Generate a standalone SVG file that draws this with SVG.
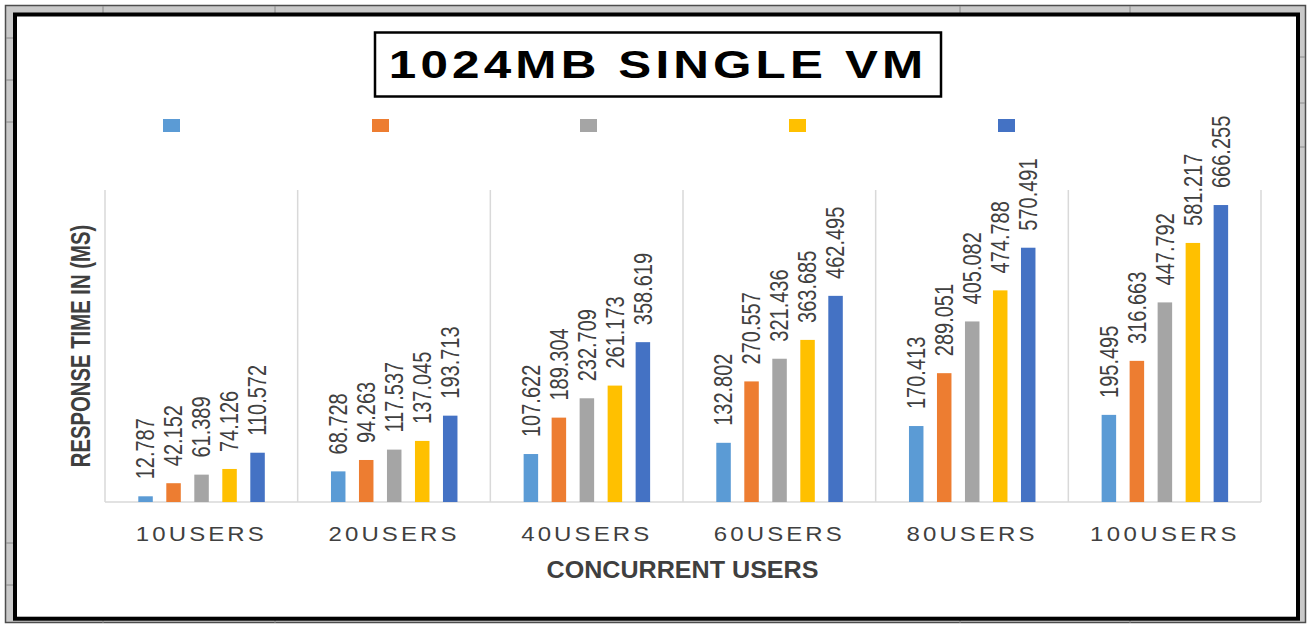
<svg xmlns="http://www.w3.org/2000/svg" width="1309" height="624" viewBox="0 0 1309 624">
  <style>
    .s1 { fill: #5B9BD5; }
    .s2 { fill: #ED7D31; }
    .s3 { fill: #A5A5A5; }
    .s4 { fill: #FFC000; }
    .s5 { fill: #4472C4; }
    .grid { stroke: #d9d9d9; stroke-width: 1.5; fill: none; }
    .tick { stroke: #8a8a8a; stroke-width: 1; }
    .val { font-family: "Liberation Sans", Arial, sans-serif; font-size: 20px; fill: #404040; }
    .cat { font-family: "Liberation Sans", Arial, sans-serif; font-size: 20px; fill: #404040; text-anchor: middle; }
    .axt { font-family: "Liberation Sans", Arial, sans-serif; font-weight: bold; fill: #3f3f3f; text-anchor: middle; }
    .ttl { font-family: "Liberation Sans", Arial, sans-serif; font-weight: bold; font-size: 38px; fill: #000; text-anchor: middle; }
  </style>

  <!-- sheet frame -->
  <rect x="0" y="0" width="1309" height="624" fill="#ffffff"/>
  <rect x="5.5" y="5.5" width="1300" height="617" fill="#c9c9c9" stroke="#4d4d4d" stroke-width="1.5"/>
  <g id="sheet-ticks">
    <line class="tick" x1="103" y1="6" x2="103" y2="13"/>
    <line class="tick" x1="275" y1="6" x2="275" y2="13"/>
    <line class="tick" x1="960" y1="6" x2="960" y2="13"/>
    <line class="tick" x1="1130" y1="6" x2="1130" y2="13"/>
    <line class="tick" x1="103" y1="620" x2="103" y2="623"/>
    <line class="tick" x1="275" y1="620" x2="275" y2="623"/>
    <line class="tick" x1="960" y1="620" x2="960" y2="623"/>
    <line class="tick" x1="1130" y1="620" x2="1130" y2="623"/>
    <line class="tick" x1="6" y1="38" x2="13" y2="38"/>
    <line class="tick" x1="6" y1="80" x2="13" y2="80"/>
    <line class="tick" x1="6" y1="122" x2="13" y2="122"/>
    <line class="tick" x1="6" y1="543" x2="13" y2="543"/>
    <line class="tick" x1="6" y1="585" x2="13" y2="585"/>
    <line class="tick" x1="1300" y1="57" x2="1305" y2="57"/>
    <line class="tick" x1="1300" y1="103" x2="1305" y2="103"/>
    <line class="tick" x1="1300" y1="147" x2="1305" y2="147"/>
  </g>
  <rect id="chart-frame" x="15" y="14.5" width="1283" height="604.2" fill="#ffffff" stroke="#000000" stroke-width="4"/>

  <!-- title -->
  <g id="title">
    <rect x="375" y="32.5" width="566" height="64" fill="#ffffff" stroke="#000000" stroke-width="2.5"/>
    <text class="ttl" transform="translate(656,77.5) scale(1.3,1)" textLength="411">1024MB SINGLE VM</text>
  </g>

  <!-- legend keys (series names are blank) -->
  <g id="legend">
    <rect class="s1" x="163" y="119" width="17" height="13"/>
    <rect class="s2" x="372" y="119" width="17" height="13"/>
    <rect class="s3" x="580" y="119" width="17" height="13"/>
    <rect class="s4" x="789" y="119" width="17" height="13"/>
    <rect class="s5" x="998" y="119" width="17" height="13"/>
  </g>

  <!-- plot area grid: category separators and baseline -->
  <g id="grid">
    <path class="grid" d="M105,190V502M297.67,190V502M490.33,190V502M683,190V502M875.67,190V502M1068.33,190V502M1261,190V502"/>
    <path class="grid" d="M105,502H1261"/>
  </g>

  <!-- bars: y scale 0..700 over 312px -->
  <g id="bars-10users">
    <rect class="s1" x="138.3" y="496.30" width="14.5" height="5.70"/>
    <rect class="s2" x="166.3" y="483.21" width="14.5" height="18.79"/>
    <rect class="s3" x="194.3" y="474.64" width="14.5" height="27.36"/>
    <rect class="s4" x="222.3" y="468.96" width="14.5" height="33.04"/>
    <rect class="s5" x="250.3" y="452.72" width="14.5" height="49.28"/>
  </g>
  <g id="bars-20users">
    <rect class="s1" x="330.97" y="471.37" width="14.5" height="30.63"/>
    <rect class="s2" x="358.97" y="459.99" width="14.5" height="42.01"/>
    <rect class="s3" x="386.97" y="449.61" width="14.5" height="52.39"/>
    <rect class="s4" x="414.97" y="440.92" width="14.5" height="61.08"/>
    <rect class="s5" x="442.97" y="415.66" width="14.5" height="86.34"/>
  </g>
  <g id="bars-40users">
    <rect class="s1" x="523.63" y="454.03" width="14.5" height="47.97"/>
    <rect class="s2" x="551.63" y="417.63" width="14.5" height="84.37"/>
    <rect class="s3" x="579.63" y="398.28" width="14.5" height="103.72"/>
    <rect class="s4" x="607.63" y="385.59" width="14.5" height="116.41"/>
    <rect class="s5" x="635.63" y="342.16" width="14.5" height="159.84"/>
  </g>
  <g id="bars-60users">
    <rect class="s1" x="716.3" y="442.81" width="14.5" height="59.19"/>
    <rect class="s2" x="744.3" y="381.41" width="14.5" height="120.59"/>
    <rect class="s3" x="772.3" y="358.73" width="14.5" height="143.27"/>
    <rect class="s4" x="800.3" y="339.90" width="14.5" height="162.10"/>
    <rect class="s5" x="828.3" y="295.86" width="14.5" height="206.14"/>
  </g>
  <g id="bars-80users">
    <rect class="s1" x="908.97" y="426.04" width="14.5" height="75.96"/>
    <rect class="s2" x="936.97" y="373.17" width="14.5" height="128.83"/>
    <rect class="s3" x="964.97" y="321.45" width="14.5" height="180.55"/>
    <rect class="s4" x="992.97" y="290.38" width="14.5" height="211.62"/>
    <rect class="s5" x="1020.97" y="247.72" width="14.5" height="254.28"/>
  </g>
  <g id="bars-100users">
    <rect class="s1" x="1101.63" y="414.87" width="14.5" height="87.13"/>
    <rect class="s2" x="1129.63" y="360.86" width="14.5" height="141.14"/>
    <rect class="s3" x="1157.63" y="302.41" width="14.5" height="199.59"/>
    <rect class="s4" x="1185.63" y="242.94" width="14.5" height="259.06"/>
    <rect class="s5" x="1213.63" y="205.04" width="14.5" height="296.96"/>
  </g>

  <!-- data labels, vertical above each bar -->
  <g id="data-labels">
    <text class="val" transform="translate(145.55,479.3) scale(1.25,1) rotate(-90)" dy="0.35em">12.787</text>
    <text class="val" transform="translate(173.55,466.2) scale(1.25,1) rotate(-90)" dy="0.35em">42.152</text>
    <text class="val" transform="translate(201.55,457.6) scale(1.25,1) rotate(-90)" dy="0.35em">61.389</text>
    <text class="val" transform="translate(229.55,452.0) scale(1.25,1) rotate(-90)" dy="0.35em">74.126</text>
    <text class="val" transform="translate(257.55,435.7) scale(1.25,1) rotate(-90)" dy="0.35em">110.572</text>

    <text class="val" transform="translate(338.22,454.4) scale(1.25,1) rotate(-90)" dy="0.35em">68.728</text>
    <text class="val" transform="translate(366.22,443.0) scale(1.25,1) rotate(-90)" dy="0.35em">94.263</text>
    <text class="val" transform="translate(394.22,432.6) scale(1.25,1) rotate(-90)" dy="0.35em">117.537</text>
    <text class="val" transform="translate(422.22,423.9) scale(1.25,1) rotate(-90)" dy="0.35em">137.045</text>
    <text class="val" transform="translate(450.22,398.7) scale(1.25,1) rotate(-90)" dy="0.35em">193.713</text>

    <text class="val" transform="translate(530.88,437.0) scale(1.25,1) rotate(-90)" dy="0.35em">107.622</text>
    <text class="val" transform="translate(558.88,400.6) scale(1.25,1) rotate(-90)" dy="0.35em">189.304</text>
    <text class="val" transform="translate(586.88,381.3) scale(1.25,1) rotate(-90)" dy="0.35em">232.709</text>
    <text class="val" transform="translate(614.88,368.6) scale(1.25,1) rotate(-90)" dy="0.35em">261.173</text>
    <text class="val" transform="translate(642.88,325.2) scale(1.25,1) rotate(-90)" dy="0.35em">358.619</text>

    <text class="val" transform="translate(723.55,425.8) scale(1.25,1) rotate(-90)" dy="0.35em">132.802</text>
    <text class="val" transform="translate(751.55,364.4) scale(1.25,1) rotate(-90)" dy="0.35em">270.557</text>
    <text class="val" transform="translate(779.55,341.7) scale(1.25,1) rotate(-90)" dy="0.35em">321.436</text>
    <text class="val" transform="translate(807.55,322.9) scale(1.25,1) rotate(-90)" dy="0.35em">363.685</text>
    <text class="val" transform="translate(835.55,278.9) scale(1.25,1) rotate(-90)" dy="0.35em">462.495</text>

    <text class="val" transform="translate(916.22,409.0) scale(1.25,1) rotate(-90)" dy="0.35em">170.413</text>
    <text class="val" transform="translate(944.22,356.2) scale(1.25,1) rotate(-90)" dy="0.35em">289.051</text>
    <text class="val" transform="translate(972.22,304.4) scale(1.25,1) rotate(-90)" dy="0.35em">405.082</text>
    <text class="val" transform="translate(1000.22,273.4) scale(1.25,1) rotate(-90)" dy="0.35em">474.788</text>
    <text class="val" transform="translate(1028.22,230.7) scale(1.25,1) rotate(-90)" dy="0.35em">570.491</text>

    <text class="val" transform="translate(1108.88,397.9) scale(1.25,1) rotate(-90)" dy="0.35em">195.495</text>
    <text class="val" transform="translate(1136.88,343.9) scale(1.25,1) rotate(-90)" dy="0.35em">316.663</text>
    <text class="val" transform="translate(1164.88,285.4) scale(1.25,1) rotate(-90)" dy="0.35em">447.792</text>
    <text class="val" transform="translate(1192.88,225.9) scale(1.25,1) rotate(-90)" dy="0.35em">581.217</text>
    <text class="val" transform="translate(1220.88,188.0) scale(1.25,1) rotate(-90)" dy="0.35em">666.255</text>
  </g>

  <!-- category axis labels -->
  <g id="category-labels">
    <text class="cat" transform="translate(199.8,541) scale(1.2,1)" textLength="106.7">10USERS</text>
    <text class="cat" transform="translate(392.5,541) scale(1.2,1)" textLength="106.7">20USERS</text>
    <text class="cat" transform="translate(585.2,541) scale(1.2,1)" textLength="106.7">40USERS</text>
    <text class="cat" transform="translate(777.8,541) scale(1.2,1)" textLength="106.7">60USERS</text>
    <text class="cat" transform="translate(970.5,541) scale(1.2,1)" textLength="106.7">80USERS</text>
    <text class="cat" transform="translate(1163.2,541) scale(1.2,1)" textLength="122.2">100USERS</text>
  </g>

  <!-- axis titles -->
  <g id="axis-titles">
    <text class="axt" font-size="20.3" transform="translate(80,346) scale(1.4,1) rotate(-90)" dy="0.35em">RESPONSE TIME IN (MS)</text>
    <text class="axt" font-size="23" x="682.5" y="578" textLength="272" lengthAdjust="spacingAndGlyphs">CONCURRENT USERS</text>
  </g>
</svg>
